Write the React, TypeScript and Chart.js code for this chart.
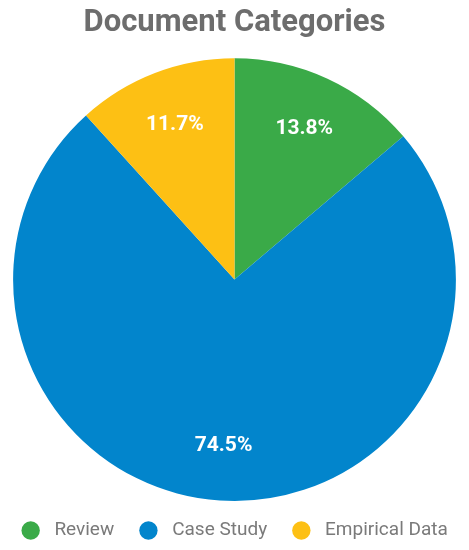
import React, { useEffect, useRef } from "react";
import { Chart, registerables } from "chart.js";

Chart.register(...registerables);

const categories = ["Review", "Case Study", "Empirical Data"];
const shares = [13.8, 74.5, 11.7];
const sliceColors = ["#3aaa48", "#0285cc", "#fdc014"];
const titleText = "Document Categories";

const sliceLabelPlugin = {
  id: "sliceLabels",
  afterDatasetsDraw(chart: any) {
    const ctx = chart.ctx;
    const meta = chart.getDatasetMeta(0);
    ctx.save();
    ctx.fillStyle = "#ffffff";
    ctx.font = "bold 21px Roboto";
    ctx.textAlign = "center";
    ctx.textBaseline = "middle";
    meta.data.forEach((arc: any, i: number) => {
      const { x, y, startAngle, endAngle, outerRadius } = arc.getProps(
        ["x", "y", "startAngle", "endAngle", "outerRadius"],
        true
      );
      const mid = (startAngle + endAngle) / 2;
      const r = outerRadius * 0.75;
      ctx.fillText(
        shares[i].toFixed(1) + "%",
        x + Math.cos(mid) * r,
        y + Math.sin(mid) * r
      );
    });
    ctx.restore();
  },
};

export default function App() {
  const ref = useRef<HTMLCanvasElement>(null);
  useEffect(() => {
    if (!ref.current) return;
    const chart = new Chart(ref.current, {
      type: "pie",
      data: {
        labels: categories,
        datasets: [
          {
            data: shares,
            backgroundColor: sliceColors,
            borderWidth: 0,
          },
        ],
      },
      options: {
        animation: false,
        responsive: true,
        maintainAspectRatio: false,
        layout: { padding: 0 },
        plugins: {
          title: {
            display: true,
            text: titleText,
            color: "#6d6d6d",
            font: { family: "Roboto", size: 31, weight: "bold" },
            padding: { top: 5, bottom: 16 },
          },
          legend: {
            position: "bottom",
            labels: {
              usePointStyle: true,
              pointStyle: "circle",
              boxHeight: 13,
              padding: 20,
              color: "#7a7a7a",
              font: { family: "Roboto", size: 19 },
              generateLabels(chart: any) {
                const items = Chart.overrides.pie.plugins.legend.labels.generateLabels(chart);
                return items.map((it: any, i: number) => ({
                  ...it,
                  text: " " + it.text + (i < items.length - 1 ? " " : ""),
                }));
              },
            },
          },
          tooltip: { enabled: false },
        },
      },
      plugins: [sliceLabelPlugin],
    });
    return () => chart.destroy();
  }, []);
  return (
    <div style={{ position: "absolute", left: 0, top: 0, width: 469, height: 550, background: "#fff" }}>
      <canvas ref={ref} />
    </div>
  );
}
